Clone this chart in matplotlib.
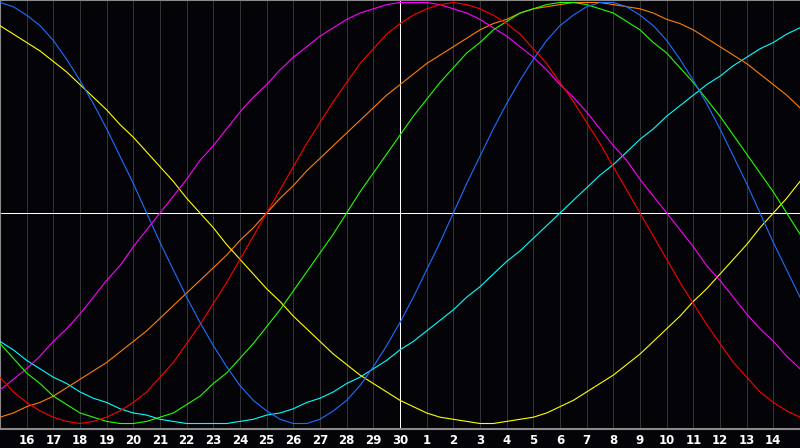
import numpy as np
import matplotlib
matplotlib.use("Agg")
import matplotlib.pyplot as plt

# Day-of-month labels along the bottom (index 15 = today, label "30")
days = [15, 16, 17, 18, 19, 20, 21, 22, 23, 24, 25, 26, 27, 28, 29, 30,
        1, 2, 3, 4, 5, 6, 7, 8, 9, 10, 11, 12, 13, 14, 15]
today_index = 15
sample_step = 0.5  # values below are read every half day

# Biorhythm cycle values (-1 .. 1), read every half day from day index 0 to 30
physical = [1.00, 0.98, 0.94, 0.89, 0.82, 0.73, 0.63, 0.52, 0.40, 0.27, 0.14, 0.00, -0.14, -0.27, -0.40, -0.52,
            -0.63, -0.73, -0.82, -0.89, -0.94,
            -0.98, -1.00, -1.00, -0.98, -0.94, -0.89, -0.82, -0.73, -0.63, -0.52, -0.40, -0.27, -0.14, 0.00,
            0.14, 0.27, 0.40, 0.52, 0.63, 0.73, 0.82,
            0.89, 0.94, 0.98, 1.00, 1.00, 0.98, 0.94, 0.89, 0.82, 0.73, 0.63, 0.52, 0.40, 0.27, 0.14, 0.00,
            -0.14, -0.27, -0.40]
emotional = [-0.78, -0.85, -0.90, -0.94, -0.97, -0.99, -1.00, -0.99, -0.97, -0.94, -0.90, -0.85, -0.78, -0.71,
             -0.62, -0.53, -0.43, -0.33, -0.22, -0.11, 0.00,
             0.11, 0.22, 0.33, 0.43, 0.53, 0.62, 0.71, 0.78, 0.85, 0.90, 0.94, 0.97, 0.99, 1.00, 0.99, 0.97,
             0.94, 0.90, 0.85, 0.78, 0.71,
             0.62, 0.53, 0.43, 0.33, 0.22, 0.11, 0.00, -0.11, -0.22, -0.33, -0.43, -0.53, -0.62, -0.71, -0.78,
             -0.85, -0.90, -0.94, -0.97]
intellectual = [-0.62, -0.69, -0.76, -0.81, -0.87, -0.91, -0.95, -0.97, -0.99, -1.00, -1.00, -0.99, -0.97, -0.95,
                -0.91, -0.87, -0.81, -0.76, -0.69, -0.62, -0.54,
                -0.46, -0.37, -0.28, -0.19, -0.10, 0.00, 0.10, 0.19, 0.28, 0.37, 0.46, 0.54, 0.62, 0.69, 0.76,
                0.81, 0.87, 0.91, 0.95, 0.97, 0.99,
                1.00, 1.00, 0.99, 0.97, 0.95, 0.91, 0.87, 0.81, 0.76, 0.69, 0.62, 0.54, 0.46, 0.37, 0.28, 0.19,
                0.10, 0.00, -0.10]
intuitive = [-0.84, -0.79, -0.74, -0.68, -0.61, -0.55, -0.48, -0.40, -0.32, -0.25, -0.16, -0.08, 0.00, 0.08,
             0.16, 0.25, 0.32, 0.40, 0.48, 0.55, 0.61,
             0.68, 0.74, 0.79, 0.84, 0.88, 0.92, 0.95, 0.97, 0.99, 1.00, 1.00, 1.00, 0.99, 0.97, 0.95, 0.92,
             0.88, 0.84, 0.79, 0.74, 0.68,
             0.61, 0.55, 0.48, 0.40, 0.32, 0.25, 0.16, 0.08, 0.00, -0.08, -0.16, -0.25, -0.32, -0.40, -0.48,
             -0.55, -0.61, -0.68, -0.74]
aesthetic = [0.89, 0.85, 0.81, 0.77, 0.72, 0.67, 0.61, 0.55, 0.49, 0.42, 0.36, 0.29, 0.22, 0.15, 0.07, 0.00,
             -0.07, -0.15, -0.22, -0.29, -0.36,
             -0.42, -0.49, -0.55, -0.61, -0.67, -0.72, -0.77, -0.81, -0.85, -0.89, -0.92, -0.95, -0.97, -0.98,
             -0.99, -1.00, -1.00, -0.99, -0.98, -0.97, -0.95,
             -0.92, -0.89, -0.85, -0.81, -0.77, -0.72, -0.67, -0.61, -0.55, -0.49, -0.42, -0.36, -0.29, -0.22,
             -0.15, -0.07, 0.00, 0.07, 0.15]
awareness = [-0.97, -0.95, -0.92, -0.90, -0.87, -0.83, -0.79, -0.75, -0.71, -0.66, -0.61, -0.56, -0.50, -0.44,
             -0.38, -0.32, -0.26, -0.20, -0.13, -0.07, 0.00,
             0.07, 0.13, 0.20, 0.26, 0.32, 0.38, 0.44, 0.50, 0.56, 0.61, 0.66, 0.71, 0.75, 0.79, 0.83, 0.87,
             0.90, 0.92, 0.95, 0.97, 0.98,
             0.99, 1.00, 1.00, 1.00, 0.99, 0.98, 0.97, 0.95, 0.92, 0.90, 0.87, 0.83, 0.79, 0.75, 0.71, 0.66,
             0.61, 0.56, 0.50]
spiritual = [-0.61, -0.65, -0.70, -0.74, -0.78, -0.81, -0.85, -0.88, -0.90, -0.93, -0.95, -0.96, -0.98, -0.99,
             -1.00, -1.00, -1.00, -1.00, -0.99, -0.98, -0.96,
             -0.95, -0.93, -0.90, -0.88, -0.85, -0.81, -0.78, -0.74, -0.70, -0.65, -0.61, -0.56, -0.51, -0.46,
             -0.40, -0.35, -0.29, -0.23, -0.18, -0.12, -0.06,
             0.00, 0.06, 0.12, 0.18, 0.23, 0.29, 0.35, 0.40, 0.46, 0.51, 0.56, 0.61, 0.65, 0.70, 0.74, 0.78,
             0.81, 0.85, 0.88]

series = [
    (spiritual, "#00ffff"),
    (awareness, "#ff8000"),
    (aesthetic, "#ffff00"),
    (intuitive, "#ff00ff"),
    (intellectual, "#22ff00"),
    (emotional, "#ff0000"),
    (physical, "#1e6eff"),
]

BG = "#040408"
W, H = 800, 448
fig = plt.figure(figsize=(W / 100, H / 100), dpi=100, facecolor=BG)
ax = fig.add_axes([0, 19 / H, 1, 429 / H])
ax.set_facecolor(BG)

xd = np.arange(len(days))
ax.set_xlim(0, len(days) - 1)
ax.set_ylim(-1.0261, 1.0119)

# day grid and labels
ax.set_xticks(xd)
ax.set_xticklabels(["" if i in (0, len(days) - 1) else str(d) for i, d in enumerate(days)])
ax.grid(axis="x", color="#333333", linewidth=0.5, antialiased=False)
ax.set_axisbelow(True)
ax.set_yticks([])
ax.tick_params(axis="x", length=0, pad=3.6, labelsize=8.5, labelcolor="white")
for lab in ax.get_xticklabels():
    lab.set_fontweight("bold")

# reference lines (today and zero)
ax.axvline(today_index, color="white", linewidth=0.5, antialiased=False, zorder=1.5)
ax.axhline(0, color="white", linewidth=0.5, antialiased=False, zorder=1.5)

for vals, col in series:
    xs = np.arange(len(vals)) * sample_step
    ax.plot(xs, vals, color=col, linewidth=0.8, antialiased=True, zorder=3)

for side in ("left", "top", "bottom"):
    ax.spines[side].set_color("#8a8a8a")
    ax.spines[side].set_linewidth(1.5)
ax.spines["right"].set_visible(False)

fig.savefig("out.png", dpi=100, facecolor=BG)
